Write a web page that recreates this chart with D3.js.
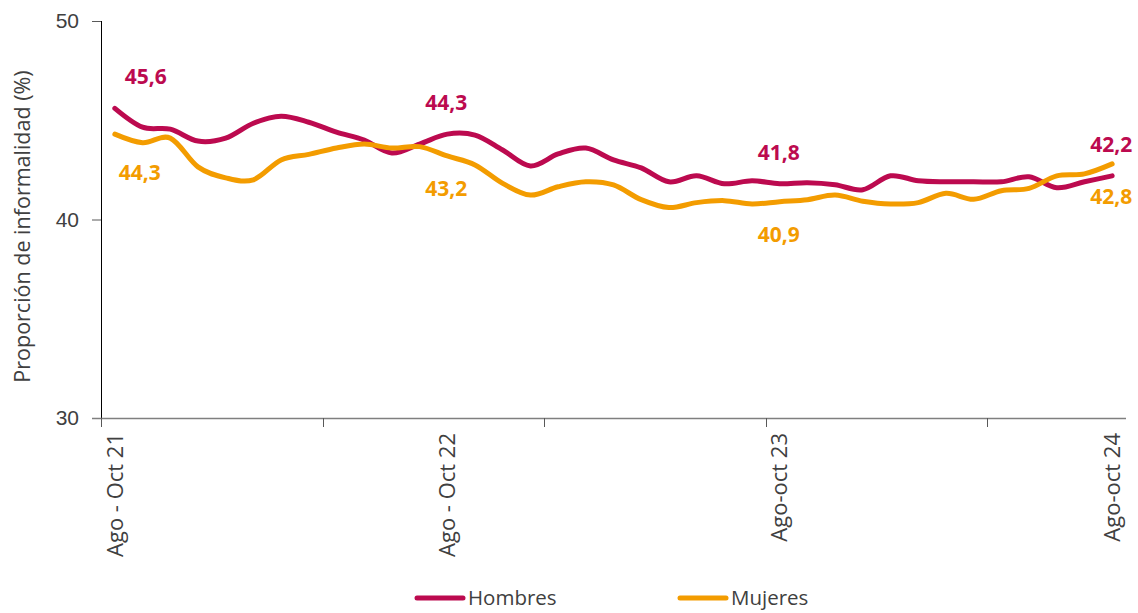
<!DOCTYPE html>
<html>
<head>
<meta charset="utf-8">
<script src="https://cdn.jsdelivr.net/npm/d3@7/dist/d3.min.js"></script>
<style>
  body { margin: 0; background: #fff; }
  svg { display: block; font-family: "Open Sans", "Noto Sans", sans-serif; }
  .tick text { fill: #404040; }
</style>
</head>
<body>
<svg id="chart"></svg>
<script>
// rolling quarters, Aug-Oct 2021 to Aug-Oct 2024
var categories = [
  "Ago - Oct 21", "Sep - Nov 21", "Oct - Dic 21", "Nov 21 - Ene 22", "Dic 21 - Feb 22",
  "Ene - Mar 22", "Feb - Abr 22", "Mar - May 22", "Abr - Jun 22", "May - Jul 22",
  "Jun - Ago 22", "Jul - Sep 22", "Ago - Oct 22", "Sep - Nov 22", "Oct - Dic 22",
  "Nov 22 - Ene 23", "Dic 22 - Feb 23", "Ene - Mar 23", "Feb - Abr 23", "Mar - May 23",
  "Abr - Jun 23", "May - Jul 23", "Jun - Ago 23", "Jul - Sep 23", "Ago-oct 23",
  "Sep-nov 23", "Oct-dic 23", "Nov 23-ene 24", "Dic 23-feb 24", "Ene-mar 24",
  "Feb-abr 24", "Mar-may 24", "Abr-jun 24", "May-jul 24", "Jun-ago 24",
  "Jul-sep 24", "Ago-oct 24"
];

var hombres = [
  45.6, 44.65, 44.55, 43.95, 44.1, 44.85, 45.2, 44.9, 44.4, 44.0,
  43.35, 43.8, 44.3, 44.25, 43.5, 42.7, 43.3, 43.6, 43.0, 42.6,
  41.9, 42.2, 41.8, 41.95, 41.8, 41.85, 41.75, 41.5, 42.2, 41.95,
  41.9, 41.9, 41.9, 42.15, 41.6, 41.9, 42.2
];

var mujeres = [
  44.3, 43.87, 44.1, 42.65, 42.1, 42.0, 43.0, 43.28, 43.6, 43.8,
  43.6, 43.67, 43.2, 42.75, 41.82, 41.23, 41.65, 41.9, 41.74, 41.0,
  40.6, 40.85, 40.95, 40.78, 40.9, 41.0, 41.23, 40.92, 40.78, 40.85,
  41.32, 41.02, 41.45, 41.57, 42.2, 42.3, 42.8
];

var yTicks = [30, 40, 50];
var labelledTicks = [0, 12, 24, 36];   // categories with a visible label
var valueLabels = [0, 12, 24, 36];     // points with a data label

var series = [
  { name: "Hombres", values: hombres, color: "#BC0A4F" },
  { name: "Mujeres", values: mujeres, color: "#F39C00" }
];

var width = 1138, height = 613;
var mLeft = 101, mRight = 1126, mTop = 21, mBottom = 418;

var svg = d3.select('#chart')
  .attr('width', width)
  .attr('height', height);

var x = d3.scaleBand()
  .domain(d3.range(categories.length))
  .range([mLeft, mRight]);

var xc = function(i) { return x(i) + x.bandwidth() / 2; };

var y = d3.scaleLinear()
  .domain([30, 50])
  .range([mBottom, mTop]);

// y axis
var yAxis = svg.append('g')
  .attr('transform', 'translate(' + mLeft + ',0)')
  .call(d3.axisLeft(y).tickValues(yTicks).tickSize(9).tickPadding(13));
yAxis.select('.domain').attr('stroke', '#000').attr('d', 'M0.5,' + mTop + 'V' + mBottom);
yAxis.selectAll('.tick line').attr('stroke', '#595959');
yAxis.selectAll('.tick text').style('font-size', '21px');

// x axis: tick marks every 8 categories, labels every 12
var xAxis = svg.append('g')
  .attr('transform', 'translate(0,' + mBottom + ')');
xAxis.append('line')
  .attr('x1', mLeft - 9).attr('x2', mRight)
  .attr('y1', 0.5).attr('y2', 0.5)
  .attr('stroke', '#7f7f7f').attr('stroke-width', 1.3);
xAxis.selectAll('line.tk')
  .data(d3.range(categories.length).filter(function(i){ return i % 8 === 0; }))
  .enter().append('line')
  .attr('class', 'tk')
  .attr('x1', function(i){ return Math.round(x(i)) + 0.5; })
  .attr('x2', function(i){ return Math.round(x(i)) + 0.5; })
  .attr('y1', 0).attr('y2', 9)
  .attr('stroke', '#595959');
xAxis.selectAll('text')
  .data(labelledTicks)
  .enter().append('text')
  .attr('transform', function(i){ return 'translate(' + xc(i) + ',15) rotate(-90)'; })
  .attr('text-anchor', 'end')
  .attr('dy', '0.35em')
  .style('font-size', '22px')
  .style('fill', '#404040')
  .text(function(i){ return categories[i]; });

// axis title
svg.append('text')
  .attr('transform', 'translate(22,' + ((mTop + mBottom) / 2 + 7) + ') rotate(-90)')
  .attr('text-anchor', 'middle')
  .attr('dy', '0.35em')
  .style('font-size', '21.5px')
  .style('fill', '#404040')
  .text('Proporción de informalidad (%)');

// lines
var line = d3.line()
  .x(function(d, i){ return xc(i); })
  .y(function(d){ return y(d); })
  .curve(d3.curveCardinal.tension(0));

svg.selectAll('path.series')
  .data(series)
  .enter().append('path')
  .attr('class', 'series')
  .attr('d', function(s){ return line(s.values); })
  .attr('fill', 'none')
  .attr('stroke', function(s){ return s.color; })
  .attr('stroke-width', 5)
  .attr('stroke-linecap', 'round')
  .attr('stroke-linejoin', 'round');

// data labels: Hombres above the line, Mujeres below
var fmt = function(v){ return v.toFixed(1).replace('.', ','); };
series.forEach(function(s, k) {
  svg.selectAll('text.lbl' + k)
    .data(valueLabels)
    .enter().append('text')
    .attr('class', 'lbl' + k)
    .attr('x', function(i){ return xc(i) + (i === 0 ? (k === 0 ? 31 : 25) : -1); })
    .attr('y', function(i){
      return y(s.values[i]) + (k === 0 ? -24 : (i === 0 ? 46 : 40));
    })
    .attr('text-anchor', 'middle')
    .style('font-size', '21px')
    .style('font-weight', 'bold')
    .style('fill', s.color)
    .text(function(i){ return fmt(s.values[i]); });
});

// legend
var legend = svg.selectAll('g.legend')
  .data(series)
  .enter().append('g')
  .attr('class', 'legend')
  .attr('transform', function(s, k){ return 'translate(' + (417 + k * 263) + ',598)'; });
legend.append('line')
  .attr('x1', 0).attr('x2', 46)
  .attr('stroke', function(s){ return s.color; })
  .attr('stroke-width', 5)
  .attr('stroke-linecap', 'round');
legend.append('text')
  .attr('x', 51)
  .attr('dy', '0.35em')
  .style('font-size', '20.5px')
  .style('fill', '#404040')
  .text(function(s){ return s.name; });
</script>
</body>
</html>
